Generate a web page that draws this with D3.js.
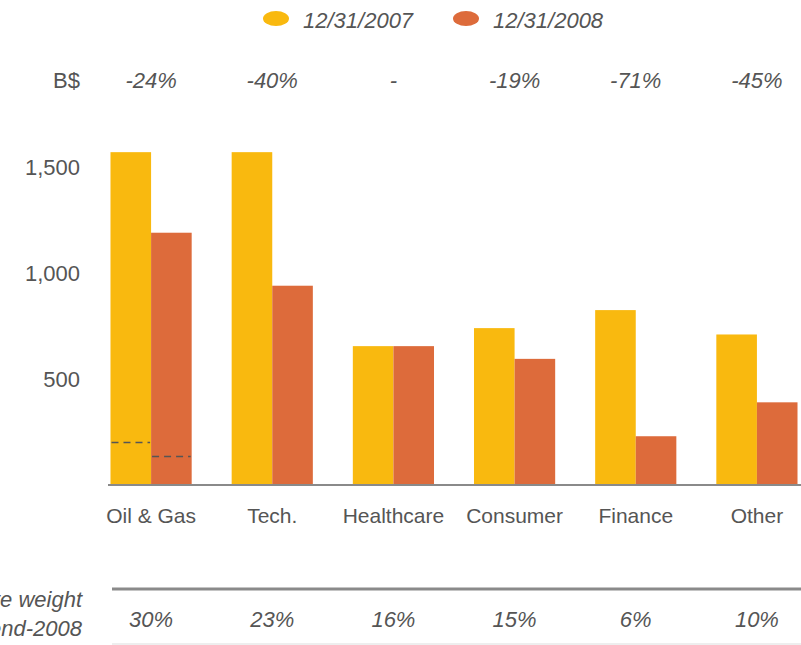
<!DOCTYPE html>
<html>
<head>
<meta charset="utf-8">
<script src="https://cdn.jsdelivr.net/npm/d3@7"></script>
<style>
  body { margin: 0; background: #fff; }
  svg { display: block; font-family: "Liberation Sans", Arial, sans-serif; }
</style>
</head>
<body>
<svg id="chart" width="801" height="645"></svg>
<script>
const sectors = ['Oil & Gas', 'Tech.', 'Healthcare', 'Consumer', 'Finance', 'Other'];
const seriesNames = ['12/31/2007', '12/31/2008'];
const values2007 = [1570, 1570, 655, 740, 825, 710];
const values2008 = [1190, 940, 655, 595, 230, 390];
const changeLabels = ['-24%', '-40%', '-', '-19%', '-71%', '-45%'];
const weightLabels = ['30%', '23%', '16%', '15%', '6%', '10%'];
const dashValues = [200, 135]; // marks inside the Oil & Gas bars
const yTicks = [500, 1000, 1500];
const colors = ['#F9B90F', '#DD6B3B'];

const textColor = '#555';
const svg = d3.select('#chart');

const x = d3.scaleBand()
  .domain(sectors)
  .range([90.5, 817.5])
  .paddingInner(0.33)
  .paddingOuter(0.165);
const sub = d3.scaleBand()
  .domain(seriesNames)
  .range([0, x.bandwidth()]);
const y = d3.scaleLinear()
  .domain([0, 1500])
  .range([485, 167]);

const rows = sectors.map((s, i) => ({ sector: s, values: [values2007[i], values2008[i]] }));

// legend
const legend = svg.append('g');
seriesNames.forEach((name, i) => {
  const lx = [276, 466][i];
  legend.append('ellipse')
    .attr('cx', lx).attr('cy', 18.5)
    .attr('rx', 13).attr('ry', 7.5)
    .attr('fill', colors[i]);
  legend.append('text')
    .attr('x', lx + 27).attr('y', 28)
    .attr('font-size', 22).attr('font-style', 'italic')
    .attr('fill', textColor)
    .text(name);
});

// top row: change labels
svg.append('text')
  .attr('x', 80).attr('y', 88)
  .attr('text-anchor', 'end')
  .attr('font-size', 22).attr('fill', textColor)
  .text('B$');
svg.selectAll('.chg')
  .data(changeLabels)
  .enter().append('text')
  .attr('class', 'chg')
  .attr('x', (d, i) => x(sectors[i]) + x.bandwidth() / 2)
  .attr('y', 88)
  .attr('text-anchor', 'middle')
  .attr('font-size', 22).attr('font-style', 'italic')
  .attr('fill', textColor)
  .text((d) => d);

// y axis labels (no line, no ticks)
const yAxis = svg.append('g')
  .attr('transform', 'translate(80,0)')
  .call(d3.axisLeft(y).tickValues(yTicks).tickSize(0).tickPadding(0).tickFormat(d3.format(',')));
yAxis.select('.domain').remove();
yAxis.selectAll('text')
  .attr('font-size', 22)
  .attr('font-family', '"Liberation Sans", Arial, sans-serif')
  .attr('fill', textColor);

// bars
const groups = svg.selectAll('.group')
  .data(rows)
  .enter().append('g')
  .attr('class', 'group')
  .attr('transform', (d) => `translate(${x(d.sector)},0)`);
groups.selectAll('rect')
  .data((d) => d.values.map((v, i) => ({ key: seriesNames[i], value: v, i })))
  .enter().append('rect')
  .attr('x', (d) => sub(d.key))
  .attr('y', (d) => y(d.value))
  .attr('width', sub.bandwidth())
  .attr('height', (d) => y(0) - y(d.value))
  .attr('fill', (d) => colors[d.i]);

// dashed marks in Oil & Gas bars
svg.selectAll('.dash')
  .data(dashValues)
  .enter().append('line')
  .attr('class', 'dash')
  .attr('x1', (d, i) => x(sectors[0]) + sub(seriesNames[i]) + 1)
  .attr('x2', (d, i) => x(sectors[0]) + sub(seriesNames[i]) + sub.bandwidth() - 1)
  .attr('y1', (d) => y(d))
  .attr('y2', (d) => y(d))
  .attr('stroke', '#555')
  .attr('stroke-width', 1.5)
  .attr('stroke-dasharray', '7,5');

// baseline
svg.append('line')
  .attr('x1', 108).attr('x2', 801)
  .attr('y1', y(0)).attr('y2', y(0))
  .attr('stroke', '#8a8a8a').attr('stroke-width', 2);

// category labels
svg.selectAll('.cat')
  .data(sectors)
  .enter().append('text')
  .attr('class', 'cat')
  .attr('x', (d) => x(d) + x.bandwidth() / 2)
  .attr('y', 523)
  .attr('text-anchor', 'middle')
  .attr('font-size', 21).attr('fill', textColor)
  .text((d) => d);

// bottom table
svg.append('line')
  .attr('x1', 112).attr('x2', 801)
  .attr('y1', 589).attr('y2', 589)
  .attr('stroke', '#8a8a8a').attr('stroke-width', 3);
svg.append('line')
  .attr('x1', 112).attr('x2', 801)
  .attr('y1', 644).attr('y2', 644)
  .attr('stroke', '#ddd').attr('stroke-width', 1);
const side = svg.append('text')
  .attr('text-anchor', 'end')
  .attr('font-size', 22).attr('font-style', 'italic')
  .attr('fill', textColor);
side.append('tspan').attr('x', 82).attr('y', 607).text('Share weight');
side.append('tspan').attr('x', 82).attr('y', 636).text('at end-2008');
svg.selectAll('.wt')
  .data(weightLabels)
  .enter().append('text')
  .attr('class', 'wt')
  .attr('x', (d, i) => x(sectors[i]) + x.bandwidth() / 2)
  .attr('y', 627)
  .attr('text-anchor', 'middle')
  .attr('font-size', 22).attr('font-style', 'italic')
  .attr('fill', textColor)
  .text((d) => d);
</script>
</body>
</html>
